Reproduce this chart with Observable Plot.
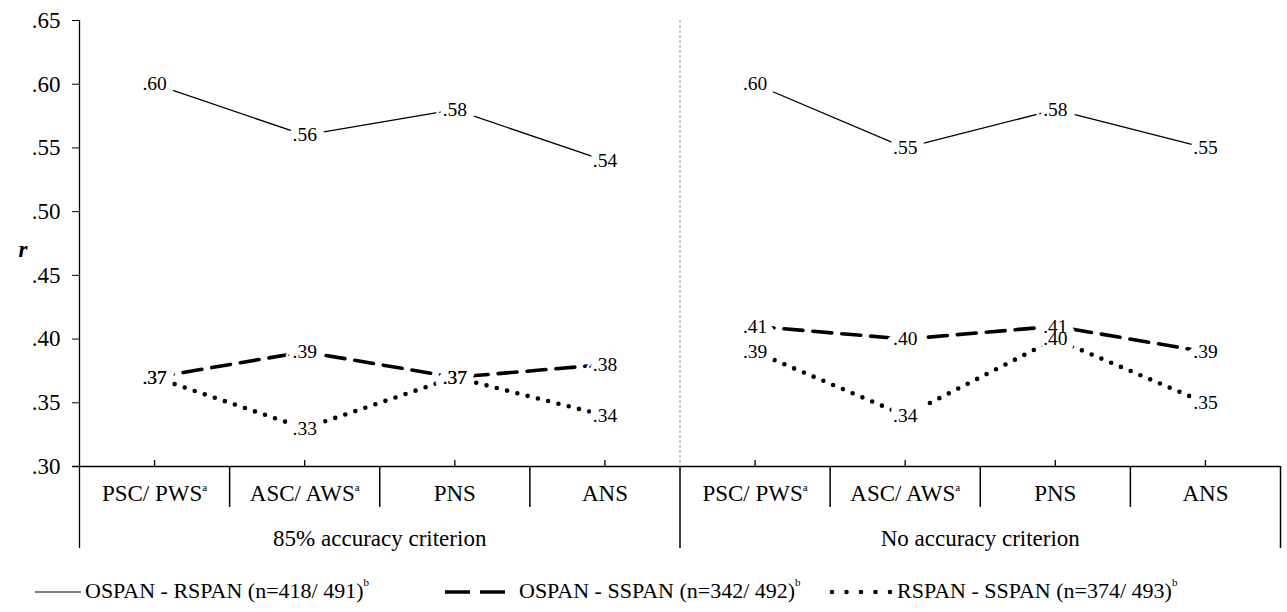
<!DOCTYPE html>
<html>
<head>
<meta charset="utf-8">
<script src="https://cdn.jsdelivr.net/npm/d3@7"></script>
<script src="https://cdn.jsdelivr.net/npm/@observablehq/plot@0.6"></script>
<style>
  html, body { margin: 0; padding: 0; background: #fff; }
  body { width: 1287px; height: 612px; position: relative; overflow: hidden; font-family: 'Liberation Serif', 'DejaVu Serif', serif; }
  #chart { position: absolute; left: 0; top: 0; }
  #chart svg, #chart svg text { font-family: 'Liberation Serif', 'DejaVu Serif', serif !important; }
  .legend { position: absolute; top: 576px; left: 0; width: 1287px; height: 30px; font-size: 22px; color: #000; }
  .item { position: absolute; top: 0; display: flex; align-items: center; height: 30px; white-space: nowrap; }
  .item svg { display: block; }
  sup { font-size: 11px; vertical-align: 12px; line-height: 0; }
</style>
</head>
<body>
<div id="chart"></div>
<div class="legend" id="legend"></div>
<script>
// ---- data ----
const categories = ["PSC/ PWS", "ASC/ AWS", "PNS", "ANS", "PSC/ PWS", "ASC/ AWS", "PNS", "ANS"];
const footnotes  = ["a", "a", "", "", "a", "a", "", ""];
const groupOf    = [0, 0, 0, 0, 1, 1, 1, 1];
const groups     = ["85% accuracy criterion", "No accuracy criterion"];
const seriesNames = ["OSPAN - RSPAN (n=418/ 491)", "OSPAN - SSPAN (n=342/ 492)", "RSPAN - SSPAN (n=374/ 493)"];
const ospanRspan = [0.60, 0.56, 0.58, 0.54, 0.60, 0.55, 0.58, 0.55];
const ospanSspan = [0.37, 0.39, 0.37, 0.38, 0.41, 0.40, 0.41, 0.39];
const rspanSspan = [0.37, 0.33, 0.37, 0.34, 0.39, 0.34, 0.40, 0.35];
const yTicks = [0.30, 0.35, 0.40, 0.45, 0.50, 0.55, 0.60, 0.65];

// ---- derived table ----
const seriesValues = [ospanRspan, ospanSspan, rspanSspan];
const rows = [];
seriesValues.forEach((vals, s) => vals.forEach((v, i) => rows.push({
  series: s, idx: i, x: i + 0.5, r: v, group: groupOf[i], key: s + "-" + groupOf[i]
})));
const catRows = categories.map((c, i) => ({ x: i + 0.5, label: c, note: footnotes[i] }));
const groupRows = groups.map((g, j) => ({ x: j * 4 + 2, label: g }));
const shortSeps = [1, 2, 3, 5, 6, 7];
const longSeps = [0, 4, 8];

const FONT = "'Liberation Serif', 'DejaVu Serif', serif";
const fmt = d => d3.format(".2f")(d).replace(/^0/, "");
const styles = [
  { stroke: "#000", strokeWidth: 1.3 },
  { stroke: "#000", strokeWidth: 3.6, strokeDasharray: "19,10" },
  { stroke: "#000", strokeWidth: 4.6, strokeDasharray: "0,10.6", strokeLinecap: "round" }
];

const chart = Plot.plot({
  width: 1287,
  height: 560,
  marginLeft: 79,
  marginRight: 7,
  marginTop: 20,
  marginBottom: 94,
  style: { fontFamily: FONT, fontSize: "23px", color: "#000", background: "#fff" },
  x: { type: "linear", domain: [0, 8], axis: null },
  y: { domain: [0.30, 0.65], axis: null, label: null },
  marks: [
    // grey dashed panel divider
    Plot.ruleX([4], { stroke: "#9a9a9a", strokeWidth: 1, strokeDasharray: "3,2" }),
    // series lines
    ...styles.map((st, s) => Plot.line(rows.filter(d => d.series === s), {
      x: "x", y: "r", z: "key", ...st
    })),
    // label halos (under all label texts)
    Plot.text(rows, { x: "x", y: "r", text: d => fmt(d.r), fontSize: 19.5, fontFamily: FONT, fill: "#fff", stroke: "#fff", strokeWidth: 16, strokeLinejoin: "round" }),
    Plot.text(rows, { x: "x", y: "r", text: d => fmt(d.r), fontSize: 19.5, fontFamily: FONT, fill: "#000" }),
    // y axis
    Plot.axisY({ ticks: yTicks, tickFormat: fmt, tickSize: 7, tickPadding: 12, fontSize: 23, fontFamily: FONT, stroke: "#000", label: null }),
    Plot.ruleX([0], { stroke: "#000", strokeWidth: 1.3, insetBottom: -82 }),
    Plot.text(["r"], { frameAnchor: "left", dx: -61, dy: 6, fontSize: 23, fontFamily: FONT, fontStyle: "italic", fontWeight: "bold" }),
    // x axis line and ticks
    Plot.ruleY([0.30], { stroke: "#000", strokeWidth: 1.3, insetLeft: -7 }),
    Plot.ruleX(catRows, { x: "x", y1: 0.30, y2: 0.30, insetTop: -6, stroke: "#000", strokeWidth: 1.3 }),
    // separators below the axis
    Plot.ruleX(shortSeps, { y1: 0.30, y2: 0.30, insetBottom: -41, stroke: "#000", strokeWidth: 1.5 }),
    Plot.ruleX(longSeps.slice(1), { y1: 0.30, y2: 0.30, insetBottom: -82, stroke: "#000", strokeWidth: 1.5 }),
    // category and group labels
    Plot.text(catRows, { x: "x", y: () => 0.30, text: "label", dy: 27, fontSize: 23, fontFamily: FONT, className: "cat-label" }),
    Plot.text(groupRows, { x: "x", y: () => 0.30, text: "label", dy: 72, fontSize: 23, fontFamily: FONT })
  ]
});
document.getElementById("chart").appendChild(chart);

// superscript footnotes on the category labels
d3.select(chart).selectAll(".cat-label text").each(function(_, i) {
  const note = catRows[i] && catRows[i].note;
  if (note) {
    d3.select(this).append("tspan").attr("font-size", 11).attr("dy", "-0.9em").text(note);
  }
});

// ---- legend ----
const legend = d3.select("#legend");
const legendPos = [35, 445, 829];
const sampleW = [46, 60, 64];
seriesNames.forEach((name, s) => {
  const item = legend.append("div").attr("class", "item").style("left", legendPos[s] + "px");
  const svg = item.append("svg").attr("width", sampleW[s] + (s === 1 ? 14 : 4)).attr("height", 30);
  const st = styles[s];
  svg.append("line")
    .attr("x1", s === 2 ? 3 : 0).attr("x2", sampleW[s]).attr("y1", 16).attr("y2", 16)
    .attr("stroke", "#000").attr("stroke-width", s === 0 ? 1.2 : st.strokeWidth)
    .attr("stroke-dasharray", s === 1 ? "25,10" : s === 2 ? "0,14.5" : null)
    .attr("stroke-linecap", s === 2 ? "round" : "butt");
  const span = item.append("span").text(name);
  span.append("sup").text("b");
});
</script>
</body>
</html>
